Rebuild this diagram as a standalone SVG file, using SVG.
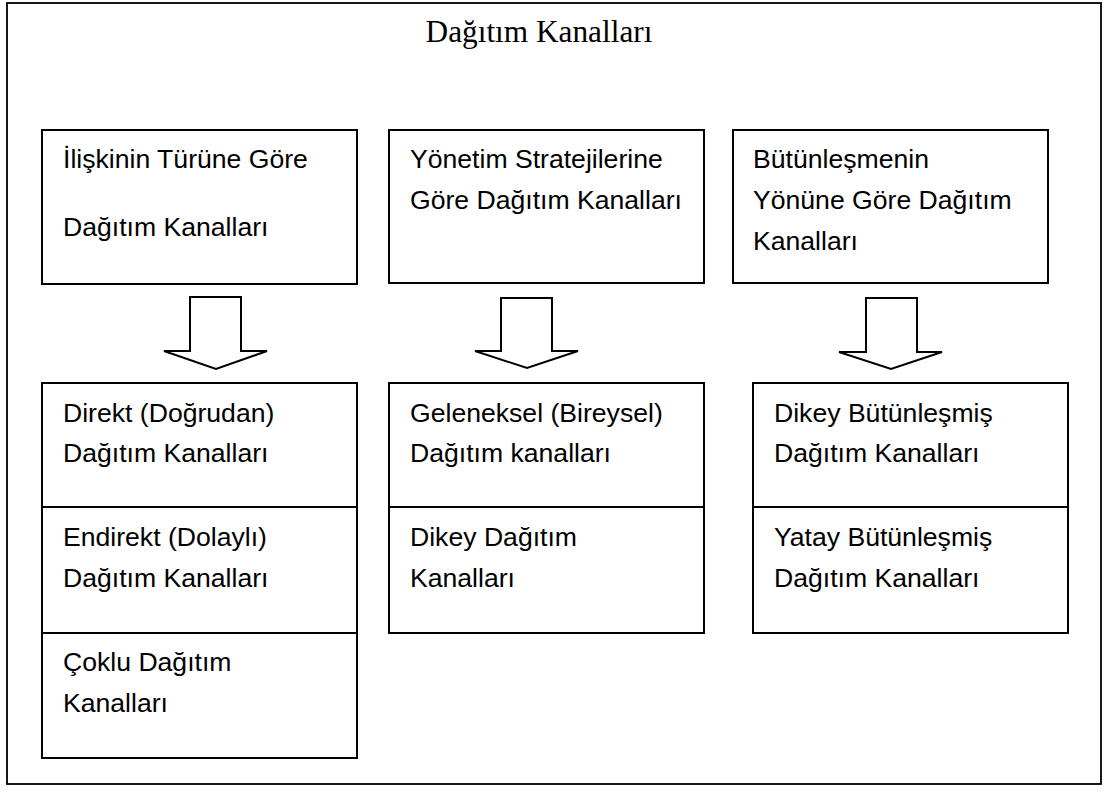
<svg xmlns="http://www.w3.org/2000/svg" width="1107" height="794" viewBox="0 0 1107 794">
  <style>
    .frame { fill: #ffffff; stroke: #000000; stroke-width: 1.8; }
    .box { fill: #ffffff; stroke: #000000; stroke-width: 2; }
    .div { stroke: #000000; stroke-width: 2; }
    .arrow { fill: #ffffff; stroke: #000000; stroke-width: 2; stroke-linejoin: miter; }
    .title { font-family: "Liberation Serif", "Times New Roman", serif; font-size: 31.3px; fill: #000; text-anchor: middle; }
    .lbl { font-family: "Liberation Sans", Arial, sans-serif; font-size: 26.6px; fill: #000; }
  </style>

  <rect width="1107" height="794" fill="#ffffff"/>

  <!-- outer frame with heading -->
  <g id="frame">
    <rect class="frame" x="7" y="3" width="1094" height="781"/>
    <text class="title" x="539" y="42">Dağıtım Kanalları</text>
  </g>

  <!-- top row: classification headings -->
  <g id="iliskinin-turu">
    <rect class="box" x="42" y="130" width="315" height="154"/>
    <text class="lbl" x="63" y="168">İlişkinin Türüne Göre</text>
    <text class="lbl" x="63" y="236">Dağıtım Kanalları</text>
  </g>

  <g id="yonetim-stratejileri">
    <rect class="box" x="389" y="130" width="315" height="153"/>
    <text class="lbl" x="410" y="168">Yönetim Stratejilerine</text>
    <text class="lbl" x="410" y="209">Göre Dağıtım Kanalları</text>
  </g>

  <g id="butunlesme-yonu">
    <rect class="box" x="733" y="130" width="315" height="153"/>
    <text class="lbl" x="753" y="168">Bütünleşmenin</text>
    <text class="lbl" x="753" y="209">Yönüne Göre Dağıtım</text>
    <text class="lbl" x="753" y="250">Kanalları</text>
  </g>

  <!-- block arrows pointing down -->
  <g id="connectors">
    <polygon class="arrow" points="190,297 241,297 241,351 267,351 216,369 164,351 190,351"/>
    <polygon class="arrow" points="501,298 552,298 552,351 578,351 527,368 475,351 501,351"/>
    <polygon class="arrow" points="866,298 917,298 917,352 942,352 891,369 839,352 866,352"/>
  </g>

  <!-- bottom row: channel types -->
  <g id="iliski-turleri">
    <rect class="box" x="42" y="383" width="315" height="375"/>
    <line class="div" x1="42" y1="507" x2="357" y2="507"/>
    <line class="div" x1="42" y1="633" x2="357" y2="633"/>
    <text class="lbl" x="63" y="422">Direkt (Doğrudan)</text>
    <text class="lbl" x="63" y="462">Dağıtım Kanalları</text>
    <text class="lbl" x="63" y="546">Endirekt (Dolaylı)</text>
    <text class="lbl" x="63" y="587">Dağıtım Kanalları</text>
    <text class="lbl" x="63" y="671">Çoklu Dağıtım</text>
    <text class="lbl" x="63" y="712">Kanalları</text>
  </g>

  <g id="strateji-turleri">
    <rect class="box" x="389" y="383" width="315" height="250"/>
    <line class="div" x1="389" y1="507" x2="704" y2="507"/>
    <text class="lbl" x="410" y="422">Geleneksel (Bireysel)</text>
    <text class="lbl" x="410" y="462">Dağıtım kanalları</text>
    <text class="lbl" x="410" y="546">Dikey Dağıtım</text>
    <text class="lbl" x="410" y="587">Kanalları</text>
  </g>

  <g id="butunlesme-turleri">
    <rect class="box" x="753" y="383" width="315" height="250"/>
    <line class="div" x1="753" y1="507" x2="1068" y2="507"/>
    <text class="lbl" x="774" y="422">Dikey Bütünleşmiş</text>
    <text class="lbl" x="774" y="462">Dağıtım Kanalları</text>
    <text class="lbl" x="774" y="546">Yatay Bütünleşmiş</text>
    <text class="lbl" x="774" y="587">Dağıtım Kanalları</text>
  </g>
</svg>
